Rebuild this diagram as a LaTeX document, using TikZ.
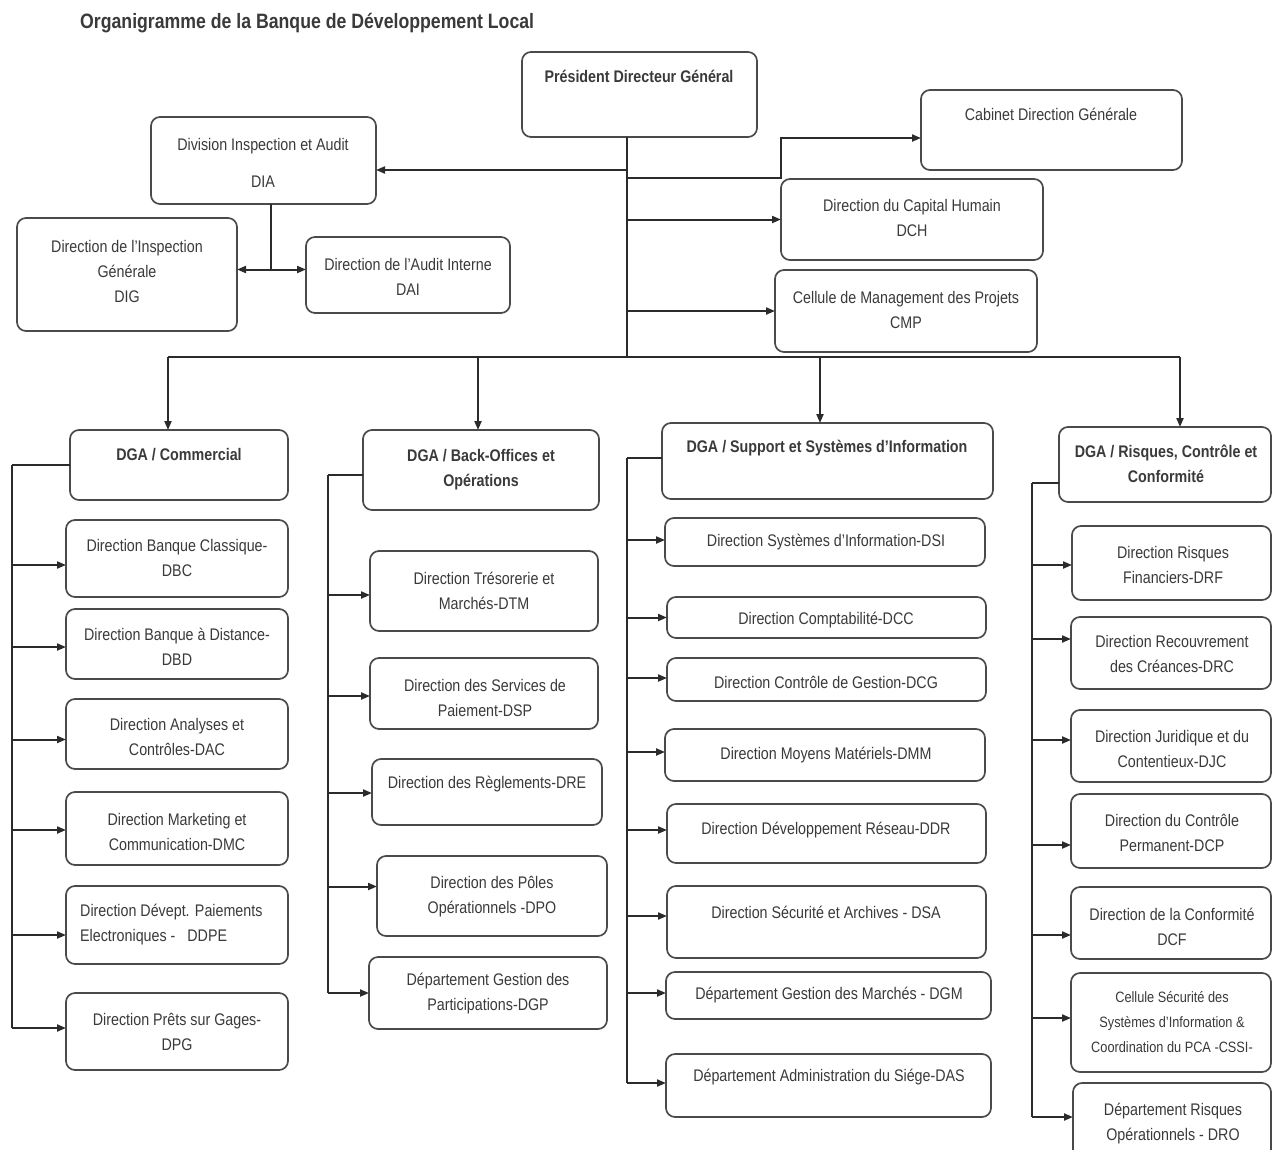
\documentclass[tikz,border=0pt]{standalone}
\usepackage{fontspec}
\setmainfont{Liberation Sans}[FakeStretch=0.85]
\usetikzlibrary{arrows.meta,calc}
\definecolor{ink}{HTML}{2B2B2B}
\definecolor{edgec}{HTML}{4A4A4A}
\definecolor{txtc}{HTML}{3A3A3A}
\newcommand\bodyf{\fontsize{16.8pt}{25pt}\selectfont}
\newcommand\smallf{\fontsize{15pt}{25pt}\selectfont}
\newcommand\titlef{\fontsize{20.8pt}{24pt}\selectfont\bfseries}
\newcommand\mkbox[5]{\node[obox, minimum width={(#4-#2)*1pt}, minimum height={(#5-#3)*1pt}] (#1) at ({(#2+#4)/2},{(#3+#5)/2}) {};}
\begin{document}
\begin{tikzpicture}[x=1pt,y=-1pt,
  obox/.style={draw=edgec, line width=1.7pt, rounded corners=9pt, inner sep=0pt, outer sep=0pt, fill=white},
  txt/.style={align=center, text=txtc, font=\bodyf, inner sep=0pt},
  hdr/.style={align=center, text=txtc, font=\bodyf\bfseries, inner sep=0pt},
  conn/.style={draw=ink, line width=2pt},
  arr/.style={conn, -{Triangle[length=9pt,width=7pt]}},
  arr2/.style={conn, {Triangle[length=9pt,width=7pt]}-{Triangle[length=9pt,width=7pt]}}]
\clip (0,0) rectangle (1272,1149);
\fill[white] (0,0) rectangle (1272,1149);

% title
\node[anchor=west, text=txtc, font=\titlef, inner sep=0pt] (title) at (80,23) {Organigramme de la Banque de Développement Local};

% top level boxes
\mkbox{pdg}{522}{52}{757}{137}
\mkbox{cab}{921}{90}{1182}{170}
\mkbox{dia}{151}{117}{376}{204}
\mkbox{dig}{17}{218}{237}{331}
\mkbox{dai}{306}{237}{510}{313}
\mkbox{dch}{781}{179}{1043}{260}
\mkbox{cmp}{775}{270}{1037}{352}

\node[hdr] (pdg-t) at (639,76) {Président Directeur Général};
\node[txt] (cab-t) at (1051,114) {Cabinet Direction Générale};
\node[txt] (dia-t) at (263,162.5) {Division Inspection et Audit\\[12pt]DIA};
\node[txt] (dig-t) at (127,271.5) {Direction de l'Inspection\\Générale\\DIG};
\node[txt] (dai-t) at (408,276.5) {Direction de l'Audit Interne\\DAI};
\node[txt] (dch-t) at (912,217.5) {Direction du Capital Humain\\DCH};
\node[txt] (cmp-t) at (906,310) {Cellule de Management des Projets\\CMP};

% column 1 : commercial
\mkbox{dgac}{70}{430}{288}{500}
\mkbox{dbc}{66}{520}{288}{597}
\mkbox{dbd}{66}{609}{288}{679}
\mkbox{dac}{66}{699}{288}{769}
\mkbox{dmc}{66}{792}{288}{865}
\mkbox{ddpe}{66}{886}{288}{964}
\mkbox{dpg}{66}{993}{288}{1070}
\node[hdr] (dgac-t) at (179,455) {DGA / Commercial};
\node[txt] (dbc-t) at (177,557.5) {Direction Banque Classique-\\DBC};
\node[txt] (dbd-t) at (177,646.5) {Direction Banque à Distance-\\DBD};
\node[txt] (dac-t) at (177,736.5) {Direction Analyses et\\Contrôles-DAC};
\node[txt] (dmc-t) at (177,831.5) {Direction Marketing et\\Communication-DMC};
\node[txt, align=left, anchor=west] (ddpe-t) at (80,925) {Direction Dévept. Paiements\\Electroniques -\hspace{12pt}DDPE};
\node[txt] (dpg-t) at (177,1031.5) {Direction Prêts sur Gages-\\DPG};

% column 2 : back-offices
\mkbox{dgab}{363}{430}{599}{510}
\mkbox{dtm}{370}{551}{598}{631}
\mkbox{dsp}{370}{658}{598}{729}
\mkbox{dre}{372}{759}{602}{825}
\mkbox{dpo}{377}{856}{607}{936}
\mkbox{dgp}{369}{957}{607}{1029}
\node[hdr] (dgab-t) at (481,470) {DGA / Back-Offices et\\Opérations};
\node[txt] (dtm-t) at (484,591) {Direction Trésorerie et\\Marchés-DTM};
\node[txt] (dsp-t) at (485,698) {Direction des Services de\\Paiement-DSP};
\node[txt] (dre-t) at (487,784) {Direction des Règlements-DRE};
\node[txt] (dpo-t) at (492,896.5) {Direction des Pôles\\Opérationnels -DPO};
\node[txt] (dgp-t) at (488,994) {Département Gestion des\\Participations-DGP};

% column 3 : support
\mkbox{dgas}{662}{423}{993}{499}
\mkbox{dsi}{665}{518}{985}{566}
\mkbox{dcc}{667}{597}{986}{638}
\mkbox{dcg}{667}{658}{986}{701}
\mkbox{dmm}{665}{729}{985}{781}
\mkbox{ddr}{667}{804}{986}{863}
\mkbox{dsa}{667}{886}{986}{958}
\mkbox{dgm}{666}{972}{991}{1019}
\mkbox{das}{666}{1054}{991}{1117}
\node[hdr] (dgas-t) at (827,448) {DGA / Support et Systèmes d'Information};
\node[txt] (dsi-t) at (826,542) {Direction Systèmes d'Information-DSI};
\node[txt] (dcc-t) at (826,620) {Direction Comptabilité-DCC};
\node[txt] (dcg-t) at (826,682) {Direction Contrôle de Gestion-DCG};
\node[txt] (dmm-t) at (826,755) {Direction Moyens Matériels-DMM};
\node[txt] (ddr-t) at (826,830) {Direction Développement Réseau-DDR};
\node[txt] (dsa-t) at (826,912) {Direction Sécurité et Archives - DSA};
\node[txt] (dgm-t) at (829,995) {Département Gestion des Marchés - DGM};
\node[txt] (das-t) at (829,1077) {Département Administration du Siége-DAS};

% column 4 : risques
\mkbox{dgar}{1059}{427}{1271}{502}
\mkbox{drf}{1072}{526}{1271}{600}
\mkbox{drc}{1071}{617}{1271}{689}
\mkbox{djc}{1071}{710}{1271}{782}
\mkbox{dcp}{1071}{794}{1271}{868}
\mkbox{dcf}{1071}{887}{1271}{959}
\mkbox{cssi}{1071}{973}{1271}{1072}
\mkbox{dro}{1073}{1083}{1271}{1165}
\node[hdr] (dgar-t) at (1166,463.5) {DGA / Risques, Contrôle et\\Conformité};
\node[txt] (drf-t) at (1173,564.5) {Direction Risques\\Financiers-DRF};
\node[txt] (drc-t) at (1172,654) {Direction Recouvrement\\des Créances-DRC};
\node[txt] (djc-t) at (1172,748.5) {Direction Juridique et du\\Contentieux-DJC};
\node[txt] (dcp-t) at (1172,832.5) {Direction du Contrôle\\Permanent-DCP};
\node[txt] (dcf-t) at (1172,926.5) {Direction de la Conformité\\DCF};
\node[txt, font=\smallf] (cssi-t) at (1172,1022.5) {Cellule Sécurité des\\Systèmes d'Information \&\\Coordination du PCA -CSSI-};
\node[txt] (dro-t) at (1173,1123.5) {Département Risques\\Opérationnels - DRO};

% ---- connectors, top ----
\coordinate (tt) at ([xshift=-12.5pt]pdg.south);
\coordinate (bl) at (168,357);
\coordinate (b2) at (478,357);
\coordinate (b3) at (820,357);
\coordinate (br) at (1180,357);
\draw[conn] (tt) -- (tt |- bl);
\draw[conn] (bl) -- (br);
\draw[arr] (bl) -- (bl |- dgac.north);
\draw[arr] (b2) -- (b2 |- dgab.north);
\draw[arr] (b3) -- (b3 |- dgas.north);
\draw[arr] (br) -- (br |- dgar.north);

\coordinate (diaE) at ([yshift=-9.5pt]dia.east);
\draw[arr] (tt |- diaE) -- (diaE);
\coordinate (cabE) at ([yshift=-8pt]cab.west);
\coordinate (cabK) at (781,178);
\draw[arr] (tt |- cabK) -- (cabK) |- (cabE);
\draw[arr] (tt |- dch.west) -- (dch.west);
\draw[arr] (tt |- cmp.west) -- (cmp.west);

\coordinate (diaB) at ([xshift=7.5pt]dia.south);
\coordinate (digE) at ([yshift=5pt]dig.east);
\draw[conn] (diaB) -- (diaB |- digE);
\draw[arr2] (digE) -- (digE -| dai.west);

% ---- column spines ----
\coordinate (s1) at ([xshift=-58pt]dgac.west);
\draw[conn] (dgac.west) -- (s1);
\foreach \n/\d [count=\i] in {dbc/-6.5, dbd/-3, dac/-5.5, dmc/-1.5, ddpe/-10, dpg/3.5}{
  \coordinate (t1-\i) at ([yshift=\d pt]\n.west);
  \draw[arr] (s1 |- t1-\i) -- (t1-\i);
}
\draw[conn] (s1) -- (s1 |- t1-6);

\coordinate (g2) at ([yshift=-5pt]dgab.west);
\coordinate (s2) at ([xshift=-35pt]g2);
\draw[conn] (g2) -- (s2);
\foreach \n/\d [count=\i] in {dtm/-4, dsp/-2.5, dre/-1, dpo/9.5, dgp/0}{
  \coordinate (t2-\i) at ([yshift=\d pt]\n.west);
  \draw[arr] (s2 |- t2-\i) -- (t2-\i);
}
\draw[conn] (s2) -- (s2 |- t2-5);

\coordinate (g3) at ([yshift=3pt]dgas.west);
\coordinate (s3) at ([xshift=-35pt]g3);
\draw[conn] (g3) -- (s3);
\foreach \n/\d [count=\i] in {dsi/2, dcc/0, dcg/1.5, dmm/3, ddr/3.5, dsa/6, dgm/2.5, das/2.5}{
  \coordinate (t3-\i) at ([yshift=\d pt]\n.west);
  \draw[arr] (s3 |- t3-\i) -- (t3-\i);
}
\draw[conn] (s3) -- (s3 |- t3-8);

\coordinate (g4) at ([yshift=-18.5pt]dgar.west);
\coordinate (s4) at ([xshift=-27pt]g4);
\draw[conn] (g4) -- (s4);
\foreach \n/\d [count=\i] in {drf/-2, drc/14, djc/6, dcp/-14, dcf/-12, cssi/4.5, dro/7}{
  \coordinate (t4-\i) at ([yshift=\d pt]\n.west);
  \draw[arr] (s4 |- t4-\i) -- (t4-\i);
}
\draw[conn] (s4) -- (s4 |- t4-7);
\end{tikzpicture}
\end{document}
